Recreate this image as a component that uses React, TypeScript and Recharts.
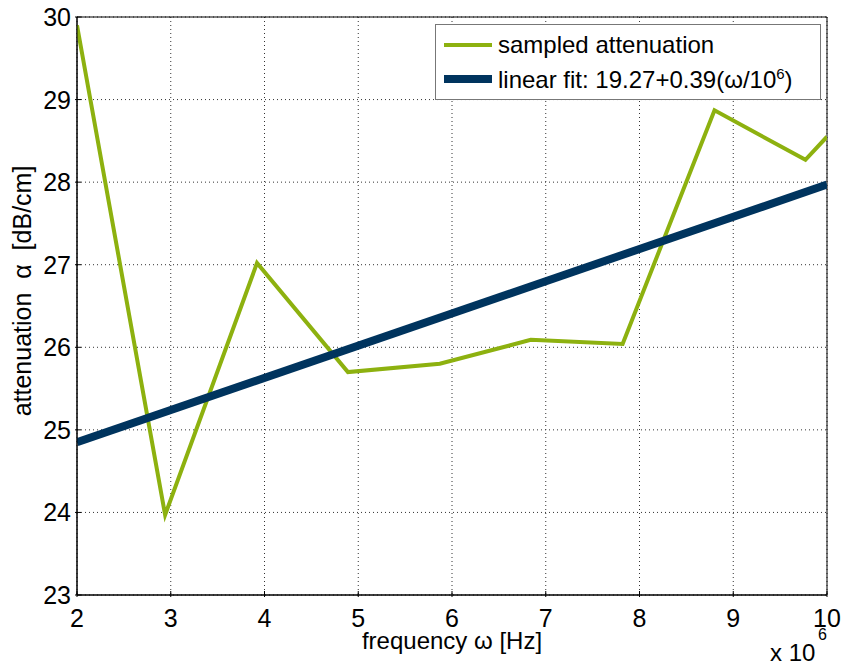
import { LineChart, Line, XAxis, YAxis, CartesianGrid, ReferenceArea } from "recharts";

const freq = [2, 2.94, 3.92, 4.89, 5.87, 6.84, 7.82, 8.8, 9.77, 10];
const sampled = [29.9, 23.97, 27.02, 25.7, 25.8, 26.09, 26.04, 28.87, 28.27, 28.55];
const fitFreq = [2, 10];
const fitValues = [24.85, 27.97];
const xTicks = [2, 3, 4, 5, 6, 7, 8, 9, 10];
const yTicks = [23, 24, 25, 26, 27, 28, 29, 30];

const GREEN = "#8db10f";
const BLUE = "#00345e";
const FONT = "Liberation Sans, Arial, sans-serif";

const sampledData = freq.map((f, i) => ({ f, v: sampled[i] }));
const fitData = fitFreq.map((f, i) => ({ f, v: fitValues[i] }));

const BottomTick = ({ x, y, payload }: any) => (
  <g>
    <line x1={x} y1={y} x2={x} y2={y - 6} stroke="#000" />
    <text x={x} y={y + 30} textAnchor="middle" fontSize={25} fontFamily={FONT} fill="#000">
      {payload.value}
    </text>
  </g>
);

const LeftTick = ({ x, y, payload }: any) => (
  <g>
    <line x1={x} y1={y} x2={x + 6} y2={y} stroke="#000" />
    <text x={x - 4} y={y + 9} textAnchor="end" fontSize={25} fontFamily={FONT} fill="#000">
      {payload.value}
    </text>
  </g>
);

const TopTick = ({ x, y }: any) => <line x1={x} y1={y} x2={x} y2={y + 6} stroke="#000" />;
const RightTick = ({ x, y }: any) => <line x1={x} y1={y} x2={x - 6} y2={y} stroke="#000" />;

const XLabel = ({ viewBox }: any) => {
  const { x, y, width } = viewBox;
  return (
    <g fontFamily={FONT} fill="#000">
      <text x={x + width / 2} y={y + 54} textAnchor="middle" fontSize={24}>
        frequency ω [Hz]
      </text>
      <text x={x + width - 57} y={y + 66} fontSize={24}>x 10</text>
      <text x={x + width - 9} y={y + 45} fontSize={16}>6</text>
    </g>
  );
};

const LegendBox = () => (
  <div
    style={{
      position: "absolute",
      left: 435,
      top: 24,
      width: 386,
      height: 76,
      border: "1px solid #777",
      background: "#fff",
      fontFamily: FONT,
      fontSize: 24,
      color: "#000",
      boxSizing: "border-box",
      padding: "3px 0 0 8px",
    }}
  >
    <div style={{ display: "flex", alignItems: "center", height: 34, whiteSpace: "nowrap" }}>
      <span style={{ display: "inline-block", width: 48, height: 4, background: GREEN, marginRight: 6 }} />
      sampled attenuation
    </div>
    <div style={{ display: "flex", alignItems: "center", height: 34, whiteSpace: "nowrap" }}>
      <span style={{ display: "inline-block", width: 48, height: 8, background: BLUE, marginRight: 6 }} />
      <span>
        linear fit: 19.27+0.39(ω/10<sup style={{ fontSize: 15 }}>6</sup>)
      </span>
    </div>
  </div>
);

export default function App() {
  return (
    <div style={{ position: "absolute", left: 0, top: 0, width: 842, height: 666, background: "#fff" }}>
      <LineChart width={842} height={666} margin={{ top: 17, right: 15, bottom: 0, left: 0 }}>
        <CartesianGrid stroke="#333" strokeDasharray="1 3" />
        <XAxis
          dataKey="f"
          type="number"
          domain={[2, 10]}
          ticks={xTicks}
          allowDataOverflow
          height={71}
          tickSize={0}
          tick={<BottomTick />}
          axisLine={{ stroke: "#000" }}
          label={<XLabel />}
        />
        <XAxis
          xAxisId="top"
          orientation="top"
          dataKey="f"
          type="number"
          domain={[2, 10]}
          ticks={xTicks}
          height={0}
          tickSize={0}
          tick={<TopTick />}
          axisLine={{ stroke: "#000" }}
        />
        <YAxis
          type="number"
          domain={[23, 30]}
          ticks={yTicks}
          allowDataOverflow
          width={77}
          tickSize={0}
          tick={<LeftTick />}
          axisLine={{ stroke: "#000" }}
          label={{
            value: "attenuation\u00A0\u00A0α\u00A0\u00A0[dB/cm]",
            angle: -90,
            position: "insideLeft",
            dx: 17,
            dy: -15,
            style: { textAnchor: "middle", fontSize: 25, fontFamily: FONT, fill: "#000" },
          }}
        />
        <YAxis
          yAxisId="right"
          orientation="right"
          type="number"
          domain={[23, 30]}
          ticks={yTicks}
          width={0}
          tickSize={0}
          tick={<RightTick />}
          axisLine={{ stroke: "#000" }}
        />
        <ReferenceArea x1={2} x2={10} y1={23} y2={30} fill="none" stroke="#000" strokeWidth={1} />
        <Line
          data={sampledData}
          dataKey="v"
          stroke={GREEN}
          strokeWidth={4}
          dot={false}
          isAnimationActive={false}
        />
        <Line
          data={fitData}
          dataKey="v"
          stroke={BLUE}
          strokeWidth={8}
          dot={false}
          isAnimationActive={false}
        />
      </LineChart>
      <LegendBox />
    </div>
  );
}
